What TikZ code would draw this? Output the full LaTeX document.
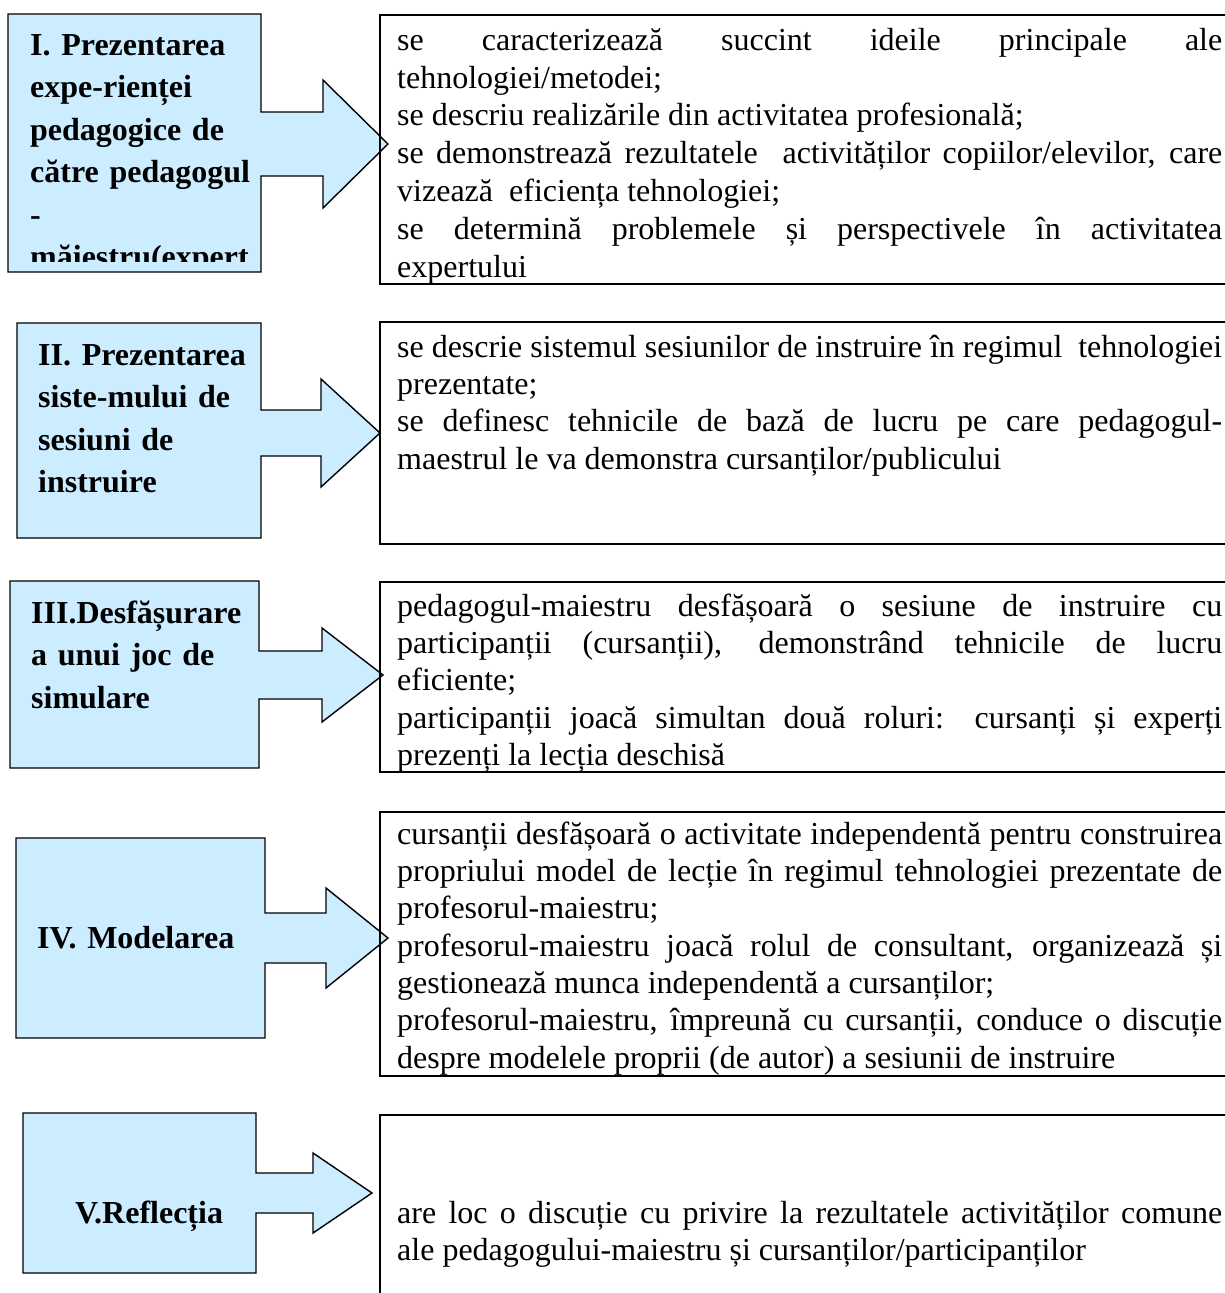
\documentclass[tikz,border=0pt]{standalone}
\usepackage{fontspec}
\setmainfont{Liberation Serif}
\definecolor{callfill}{HTML}{CCECFF}
\begin{document}
\begin{tikzpicture}[x=1pt,y=-1pt,
  callout/.style={draw=black, line width=1.4pt, fill=callfill, line join=miter},
  infobox/.style={draw=black, line width=2pt},
  infotext/.style={anchor=north west, inner sep=0pt, text width=825pt, align=justify,
    font=\fontsize{32}{37.3}\selectfont},
  headtext/.style={anchor=north west, inner sep=0pt, text width=240pt, align=left,
    font=\fontsize{32}{42.5}\selectfont\bfseries}]
\useasboundingbox (0,0) rectangle (1225,1293);
\clip (0,0) rectangle (1225,1293);
\hyphenpenalty=10000
% ---------- Row I ----------
\draw[callout] (8,14) -- (261,14) -- (261,112) -- (323,112) -- (323,80) -- (388,144)
  -- (323,208) -- (323,176) -- (261,176) -- (261,272) -- (8,272) -- cycle;
\begin{scope}
\clip (8,14) rectangle (261,261);
\node[headtext] (h1) at (30,25) {\rule{0pt}{30pt}I. Prezentarea\\ expe-rienței\\ pedagogice de\\ către pedagogul\\ -\\ măiestru(expert};
\end{scope}
\draw[infobox] (380,15) rectangle (1235,284);
\node[infotext, font=\fontsize{32}{37.8}\selectfont] (t1) at (397,24) {\rule{0pt}{26pt}se caracterizează succint ideile principale ale\linebreak tehnologiei/metodei;\par
se descriu realizările din activitatea profesională;\par
se demonstrează rezultatele\ \ activităților copiilor/elevilor, care\linebreak vizează\ \ eficiența tehnologiei;\par
se determină problemele și perspectivele în activitatea\linebreak expertului};
% ---------- Row II ----------
\draw[callout] (17,323) -- (261,323) -- (261,410) -- (321,410) -- (321,379) -- (380,433)
  -- (321,487) -- (321,456) -- (261,456) -- (261,538) -- (17,538) -- cycle;
\node[headtext] (h2) at (38,335) {\rule{0pt}{30pt}II. Prezentarea\\ siste-mului de\\ sesiuni de\\ instruire};
\draw[infobox] (380,322) rectangle (1235,544);
\node[infotext] (t2) at (397,331) {\rule{0pt}{26pt}se descrie sistemul sesiunilor de instruire în regimul\ \ tehnologiei\linebreak prezentate;\par
se definesc tehnicile de bază de lucru pe care pedagogul-\linebreak maestrul le va demonstra cursanților/publicului};
% ---------- Row III ----------
\draw[callout] (10,581) -- (259,581) -- (259,651) -- (322,651) -- (322,628) -- (383,675)
  -- (322,722) -- (322,699) -- (259,699) -- (259,768) -- (10,768) -- cycle;
\node[headtext] (h3) at (31,593) {\rule{0pt}{30pt}III.Desfășurare\\ a unui joc de\\ simulare};
\draw[infobox] (380,582) rectangle (1235,772);
\node[infotext] (t3) at (397,590) {\rule{0pt}{26pt}pedagogul-maiestru desfășoară o sesiune de instruire cu\linebreak participanții (cursanții), demonstrând tehnicile de lucru\linebreak eficiente;\par
participanții joacă simultan două roluri: cursanți și experți\linebreak prezenți la lecția deschisă};
% ---------- Row IV ----------
\draw[callout] (16,838) -- (265,838) -- (265,913) -- (326,913) -- (326,888) -- (388,938)
  -- (326,988) -- (326,963) -- (265,963) -- (265,1038) -- (16,1038) -- cycle;
\node[headtext] (h4) at (37,918) {\rule{0pt}{30pt}IV. Modelarea};
\draw[infobox] (380,812) rectangle (1235,1076);
\node[infotext] (t4) at (397,818) {\rule{0pt}{26pt}cursanții desfășoară o activitate independentă pentru construirea\linebreak propriului model de lecție în regimul tehnologiei prezentate de\linebreak profesorul-maiestru;\par
profesorul-maiestru joacă rolul de consultant, organizează și\linebreak gestionează munca independentă a cursanților;\par
profesorul-maiestru, împreună cu cursanții, conduce o discuție\linebreak despre modelele proprii (de autor) a sesiunii de instruire};
% ---------- Row V ----------
\draw[callout] (23,1113) -- (256,1113) -- (256,1173) -- (313,1173) -- (313,1153) -- (372,1193)
  -- (313,1233) -- (313,1213) -- (256,1213) -- (256,1273) -- (23,1273) -- cycle;
\node[headtext] (h5) at (75,1193) {\rule{0pt}{30pt}V.Reflecția};
\draw[infobox] (380,1115) rectangle (1235,1310);
\node[infotext] (t5) at (397,1197) {\rule{0pt}{26pt}are loc o discuție cu privire la rezultatele activităților comune\linebreak ale pedagogului-maiestru și cursanților/participanților};
\end{tikzpicture}
\end{document}
